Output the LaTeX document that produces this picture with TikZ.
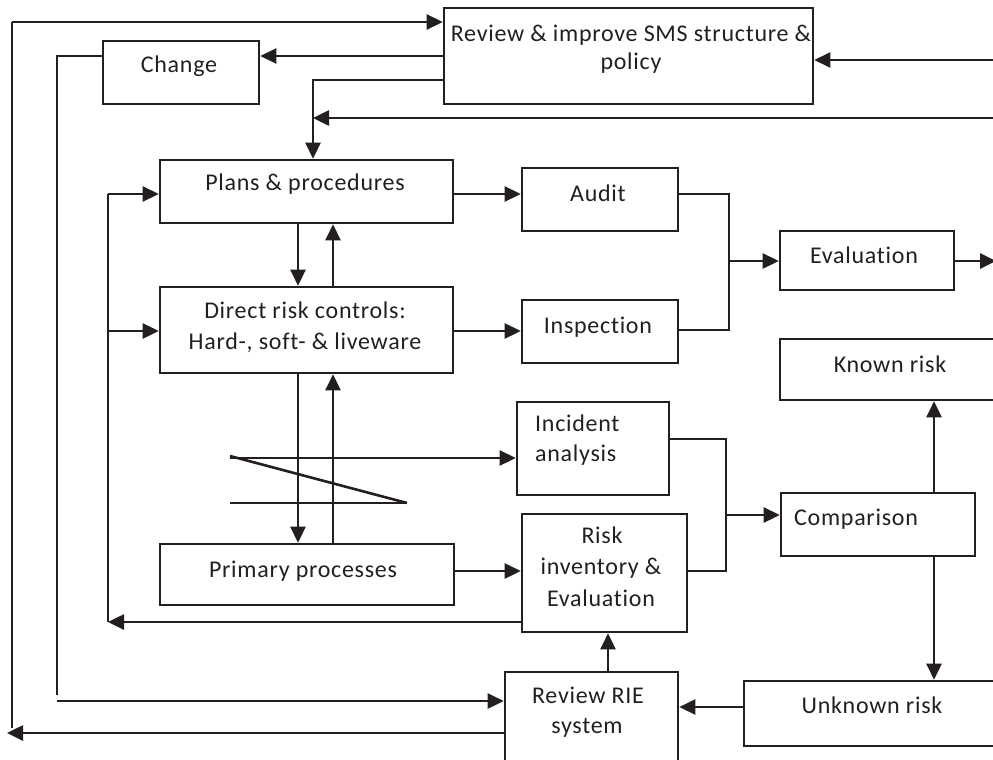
\documentclass[tikz,border=0pt]{standalone}
\usepackage{fontspec}
\setmainfont{Carlito}[LetterSpace=3,Ligatures=NoCommon]
\usetikzlibrary{arrows.meta,fit}
\definecolor{ink}{HTML}{231F20}
\begin{document}
\begin{tikzpicture}[x=1pt,y=-1pt,
  box/.style={draw=ink, line width=2.6pt, inner sep=0pt},
  txt/.style={text=ink, font=\fontsize{24}{27}\selectfont, anchor=base, inner sep=0pt},
  ltxt/.style={txt, anchor=base west},
  ln/.style={draw=ink, line width=2.6pt},
  arr/.style={ln, -{Triangle[length=16pt,width=15pt]}}]
\useasboundingbox (0,0) rectangle (993,760);
\clip (0,0) rectangle (993,760);
% boxes
\node[box, fit={(444,8) (813,104)}] (sms) {};
\node[box, fit={(103,41) (259,104)}] (chg) {};
\node[box, fit={(160,160) (453,223)}] (plans) {};
\node[box, fit={(160,287) (453,373)}] (direct) {};
\node[box, fit={(522,168) (678,231)}] (audit) {};
\node[box, fit={(522,300) (678,363)}] (insp) {};
\node[box, fit={(780,231) (954,290)}] (eval) {};
\node[box, fit={(780,339) (1010,400)}] (known) {};
\node[box, fit={(517,402) (669,495)}] (inc) {};
\node[box, fit={(522,514) (687,632)}] (risk) {};
\node[box, fit={(781,493) (975,556)}] (comp) {};
\node[box, fit={(160,544) (454,605)}] (prim) {};
\node[box, fit={(505,672) (678,780)}] (rie) {};
\node[box, fit={(744,681) (1010,746)}] (unk) {};
% texts
\node[txt] (t1) at (631,42) {Review \& improve SMS structure \&};
\node[txt] (t2) at (631,70) {policy};
\node[txt] (t3) at (179,73) {Change};
\node[txt] (t4) at (305,190) {Plans \& procedures};
\node[txt] (t5) at (305,318) {Direct risk controls:};
\node[txt] (t6) at (305,349) {Hard-, soft- \& liveware};
\node[txt] (t7) at (598,201) {Audit};
\node[txt] (t8) at (598,333) {Inspection};
\node[txt] (t9) at (864,263) {Evaluation};
\node[txt] (t10) at (890,372) {Known risk};
\node[ltxt] (t11) at (535,431) {Incident};
\node[ltxt] (t12) at (535,461) {analysis};
\node[txt] (t13) at (602,543) {Risk};
\node[txt] (t14) at (601,574) {inventory \&};
\node[txt] (t15) at (601,606) {Evaluation};
\node[ltxt] (t16) at (794,525) {Comparison};
\node[txt] (t17) at (588,703) {Review RIE};
\node[txt] (t18) at (587,733) {system};
\node[txt] (t19) at (872,713) {Unknown risk};
\node[txt] (t20) at (303,577) {Primary processes};
% free ends
\coordinate (rE1) at (996,60);
\coordinate (rE2) at (996,118);
\coordinate (rE3) at (996,261);
\coordinate (oBL) at (7,733);
% outer loops
\draw[ln] (12,728) -- (12,22);
\draw[arr] (12,22) -- (sms.west |- 0,22);
\draw[arr] (rie.west |- 0,733) -- (oBL);
\draw[ln] (chg.west |- 0,56) -- (57,56) -- (57,695);
\draw[arr] (57,701) -- (rie.west |- 0,701);
\draw[arr] (sms.west |- 0,56) -- (chg.east |- 0,56);
\draw[arr] (sms.west |- 0,80) -- (313,80) -- (plans.north -| 313,0);
\draw[arr] (rE2) -- (313,118);
\draw[arr] (rE1) -- (sms.east |- 0,60);
% left feedback
\draw[arr] (risk.west |- 0,622) -- (108,622);
\draw[ln] (108,622) -- (108,194);
\draw[arr] (108,194) -- (plans.west |- 0,194);
\draw[arr] (108,331) -- (direct.west |- 0,331);
% vertical pairs
\draw[arr] (plans.south -| 298,0) -- (direct.north -| 298,0);
\draw[arr] (direct.north -| 333,0) -- (plans.south -| 333,0);
\draw[arr] (direct.south -| 298,0) -- (prim.north -| 298,0);
\draw[arr] (prim.north -| 333,0) -- (direct.south -| 333,0);
% audit / inspection
\draw[arr] (plans.east |- 0,194) -- (audit.west |- 0,194);
\draw[arr] (direct.east |- 0,331) -- (insp.west |- 0,331);
\draw[ln] (audit.east |- 0,194) -- (729,194) -- (729,330) -- (insp.east |- 0,330);
\draw[arr] (729,261) -- (eval.west |- 0,261);
\draw[arr] (eval.east |- 0,261) -- (rE3);
% Z shape
\draw[arr] (230,458) -- (inc.west |- 0,458);
\draw[ln] (230,456) -- (407,503);
\draw[ln] (230,503) -- (407,503);
% lower part
\draw[arr] (prim.east |- 0,571) -- (risk.west |- 0,571);
\draw[ln] (inc.east |- 0,439) -- (726,439) -- (726,571) -- (risk.east |- 0,571);
\draw[arr] (726,515) -- (comp.west |- 0,515);
\draw[arr] (comp.north -| 934,0) -- (known.south -| 934,0);
\draw[arr] (comp.south -| 934,0) -- (unk.north -| 934,0);
\draw[arr] (unk.west |- 0,707) -- (rie.east |- 0,707);
\draw[arr] (rie.north -| 608,0) -- (risk.south -| 608,0);
\end{tikzpicture}
\end{document}
